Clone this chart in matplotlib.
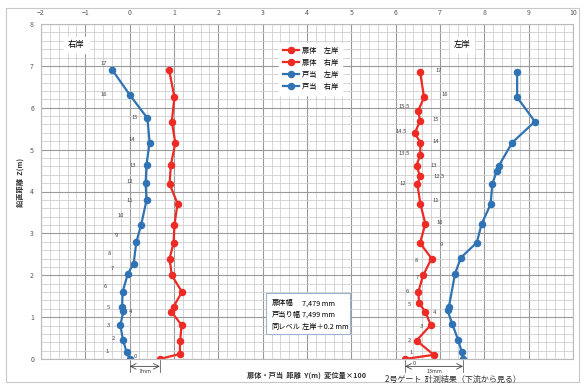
import matplotlib
matplotlib.use("Agg")
import matplotlib.pyplot as plt
from matplotlib.patches import Rectangle
from matplotlib.ticker import MultipleLocator

plt.rcParams['font.family'] = ['Noto Sans CJK JP', 'DejaVu Sans']

# --- measured data: Y displacement (x100) vs. height Z(m) ---
# right bank (右岸)
z_rb_door = [6.90, 6.25, 5.67, 5.16, 4.64, 4.18, 3.71, 3.21, 2.77, 2.40, 2.00,
             1.60, 1.25, 1.13, 0.81, 0.44, 0.12, 0.00]
y_rb_door = [0.89, 1.01, 0.95, 1.03, 0.93, 0.90, 1.08, 1.01, 0.99, 0.90, 0.95,
             1.18, 0.99, 0.94, 1.17, 1.14, 1.13, 0.68]
z_rb_frame = [6.90, 6.31, 5.75, 5.17, 4.64, 4.20, 3.79, 3.21, 2.79, 2.28, 2.04,
              1.60, 1.24, 1.14, 0.81, 0.45, 0.17, 0.00]
y_rb_frame = [-0.39, 0.00, 0.40, 0.45, 0.38, 0.36, 0.38, 0.26, 0.15, 0.09, -0.04,
              -0.16, -0.17, -0.14, -0.21, -0.15, -0.07, 0.00]

# left bank (左岸)
z_lb_door = [6.86, 6.25, 5.93, 5.69, 5.39, 5.17, 4.86, 4.62, 4.36, 4.17, 3.69,
             3.23, 2.77, 2.40, 2.00, 1.60, 1.33, 1.13, 0.81, 0.44, 0.10, 0.00]
y_lb_door = [6.55, 6.64, 6.51, 6.55, 6.43, 6.56, 6.55, 6.47, 6.55, 6.49, 6.56,
             6.67, 6.55, 6.81, 6.62, 6.51, 6.53, 6.67, 6.79, 6.47, 6.86, 6.21]
z_lb_frame = [6.86, 6.25, 5.67, 5.17, 4.62, 4.50, 4.17, 3.69, 3.23, 2.78, 2.42,
              2.04, 1.24, 1.16, 0.83, 0.45, 0.17, 0.00]
y_lb_frame = [8.74, 8.74, 9.14, 8.63, 8.33, 8.28, 8.18, 8.14, 7.94, 7.83, 7.47,
              7.34, 7.20, 7.17, 7.28, 7.41, 7.49, 7.52]

# measuring point numbers
rb_point_labels = ["17", "16", "15", "14", "13", "12", "11", "10", "9", "8", "7",
                   "6", "5", "4", "3", "2", "1", "0"]
rb_point_xy = [(-0.59, 7.05), (-0.59, 6.31), (0.11, 5.76), (0.05, 5.24), (0.07, 4.62),
               (0.00, 4.24), (0.00, 3.79), (-0.20, 3.43), (-0.29, 2.95), (-0.45, 2.52),
               (-0.38, 2.17), (-0.54, 1.74), (-0.47, 1.24), (0.02, 1.14), (-0.47, 0.81),
               (-0.36, 0.50), (-0.50, 0.19), (0.14, 0.05)]
lb_point_labels = ["17", "16", "15.5", "15", "14.5", "14", "13.5", "13", "12.5", "12",
                   "11", "10", "9", "8", "7", "6", "5", "4", "3", "2", "1", "0"]
lb_point_xy = [(6.98, 6.90), (7.11, 6.31), (6.19, 6.02), (6.91, 5.71), (6.12, 5.43),
               (6.91, 5.19), (6.19, 4.90), (6.85, 4.62), (6.98, 4.36), (6.16, 4.19),
               (6.91, 3.79), (7.00, 3.26), (7.04, 2.73), (6.46, 2.35), (6.49, 1.95),
               (6.27, 1.62), (6.31, 1.31), (6.88, 1.12), (6.57, 0.78), (6.31, 0.43),
               (6.34, 0.16), (6.43, -0.11)]

series_labels = ["扉体　左岸", "扉体　右岸", "戸当　左岸", "戸当　右岸"]
info_names = ["扉体幅", "戸当り幅", "同レベル"]
info_values = ["7,479 mm", "7,499 mm", "左岸＋0.2 mm"]
gap_labels = ["7mm", "13mm"]

RED = "#ee2a24"
BLUE = "#2f73b5"

fig = plt.figure(figsize=(5.85, 3.87), dpi=100)
fig.patches.append(Rectangle((6 / 585, 1 - 382 / 387), 573 / 585, 374 / 387,
                             transform=fig.transFigure, fill=False,
                             edgecolor="#c8c8c8", linewidth=0.8))
ax = fig.add_axes([41 / 585, 1 - 359 / 387, 532 / 585, 335 / 387])

ax.set_xlim(-2, 10)
ax.set_ylim(0, 8)
ax.xaxis.set_major_locator(MultipleLocator(1))
ax.xaxis.set_minor_locator(MultipleLocator(0.2))
ax.yaxis.set_major_locator(MultipleLocator(1))
ax.yaxis.set_minor_locator(MultipleLocator(0.2))
ax.grid(which="major", color="#9a9a9a", linewidth=0.8)
ax.grid(which="minor", color="#cfcfcf", linewidth=0.6)
ax.set_axisbelow(True)
ax.xaxis.tick_top()
ax.tick_params(which="both", length=0, labelsize=5, colors="#555555", pad=5)
for s in ax.spines.values():
    s.set_color("#bbbbbb")
    s.set_linewidth(0.8)

kw = dict(linewidth=1.6, marker="o", markersize=4.4)
h1, = ax.plot(y_lb_door, z_lb_door, color=RED, **kw)
h2, = ax.plot(y_rb_door, z_rb_door, color=RED, **kw)
h3, = ax.plot(y_lb_frame, z_lb_frame, color=BLUE, **kw)
h4, = ax.plot(y_rb_frame, z_rb_frame, color=BLUE, **kw)

for t, (x, y) in zip(rb_point_labels, rb_point_xy):
    ax.text(x, y, t, fontsize=4.2, color="#444444", ha="center", va="center",
            clip_on=False)
for t, (x, y) in zip(lb_point_labels, lb_point_xy):
    ax.text(x, y, t, fontsize=4.2, color="#444444", ha="center", va="center",
            clip_on=False)

leg = ax.legend([h1, h2, h3, h4], series_labels, loc="upper left",
                bbox_to_anchor=(0.44, 0.955), fontsize=5.2, frameon=True,
                handlelength=2.2, handletextpad=0.4, labelspacing=0.55,
                borderpad=0.6, fancybox=False)
leg.get_frame().set_edgecolor("white")
leg.get_frame().set_facecolor("white")
leg.get_frame().set_alpha(1)

box = dict(boxstyle="square,pad=0.45", facecolor="white", edgecolor="white")
ax.text(-1.2, 7.5, "右岸", fontsize=6, ha="center", va="center", bbox=box)
ax.text(7.5, 7.5, "左岸", fontsize=6, ha="center", va="center", bbox=box)

# info box with widths
ax.add_patch(Rectangle((3.07, 0.6), 1.9, 0.98, facecolor="white",
                       edgecolor="#9fb4cc", linewidth=0.8, zorder=4))
for i, (n, v) in enumerate(zip(info_names, info_values)):
    yy = 1.33 - i * 0.28
    ax.text(3.2, yy, n, fontsize=5.2, va="center", zorder=5)
    ax.text(3.88, yy, v, fontsize=5.2, va="center", zorder=5)

# gap dimensions at the sill
trans = ax.get_xaxis_transform()
for (xa, xb), lab in zip([(y_rb_frame[-1], y_rb_door[-1]),
                          (y_lb_door[-1], y_lb_frame[-1])], gap_labels):
    ax.annotate("", xy=(xa, -0.022), xytext=(xb, -0.022), xycoords=trans,
                textcoords=trans,
                arrowprops=dict(arrowstyle="<->", color="#444444", lw=0.6,
                                shrinkA=0, shrinkB=0), annotation_clip=False)
    for xe in (xa, xb):
        ax.plot([xe, xe], [-0.003, -0.04], transform=trans, color="#444444",
                lw=0.5, clip_on=False)
    ax.text((xa + xb) / 2, -0.038, lab, transform=trans, fontsize=3.8,
            ha="center", va="center", color="#333333")

fig.text(20 / 585, 1 - 182 / 387, "鉛直距離  Z(m)", rotation=90, fontsize=5.2,
         ha="center", va="center", fontweight="bold", color="#333333")
fig.text(247 / 585, 1 - 375 / 387, "扉体・戸当  距離  Y(m)  変位量×100",
         fontsize=5.2, ha="left", va="center", fontweight="bold", color="#333333")
fig.text(385 / 585, 1 - 379 / 387, "2号ゲート  計測結果（下流から見る）",
         fontsize=5.8, ha="left", va="center", color="#333333")

fig.savefig("out.png", dpi=100)
